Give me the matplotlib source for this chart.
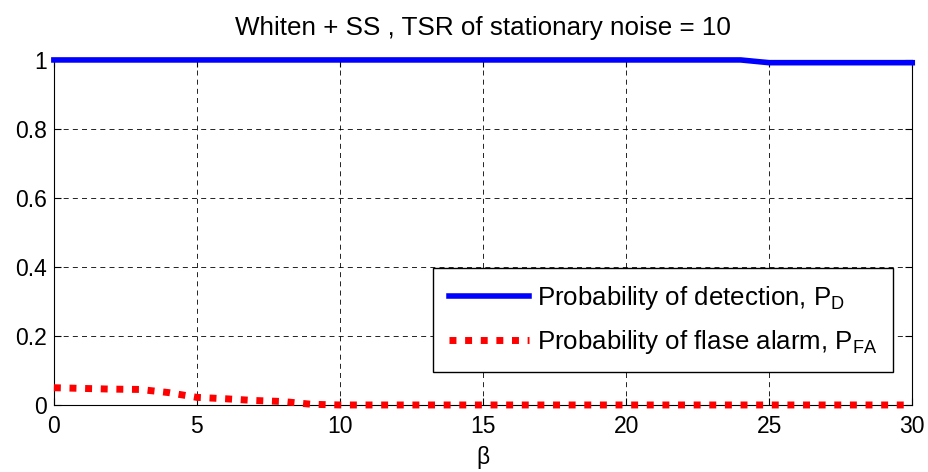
import matplotlib.pyplot as plt
import numpy as np

plt.rcParams['font.family'] = ['Liberation Sans', 'DejaVu Sans']

beta = np.arange(0, 31)
pd_vals = [1.0] * 25 + [0.992] * 6
pfa_vals = [0.05, 0.048, 0.046, 0.045, 0.036, 0.022, 0.018, 0.013, 0.01, 0.002,
            0.0, 0.0] + [0.0] * 19

fig = plt.figure(figsize=(9.29, 4.72), dpi=100)
ax = fig.add_axes([0.058, 0.142, 0.924, 0.731])

ax.plot(beta, pd_vals, color='#0000ff', linewidth=4, clip_on=False, zorder=3,
        label='Probability of detection, P$_\\mathregular{D}$')
ax.plot(beta, pfa_vals, color='#ff0000', linewidth=5, linestyle=(0, (1, 1.25)),
        clip_on=False, zorder=3, label='Probability of flase alarm, P$_\\mathregular{FA}$')

ax.set_xlim(0, 30)
ax.set_ylim(0, 1)
ax.set_xticks([0, 5, 10, 15, 20, 25, 30])
ax.set_yticks([0, 0.2, 0.4, 0.6, 0.8, 1])
ax.set_yticklabels(['0', '0.2', '0.4', '0.6', '0.8', '1'])
ax.tick_params(labelsize=16.5, direction='in', length=5, top=True, right=True)
ax.tick_params(axis='x', pad=7)
ax.tick_params(axis='y', pad=5)
ax.grid(True, color='black', linestyle=(0, (6, 5)), linewidth=0.6)
ax.set_xlabel('β', fontsize=16.5, labelpad=6)
ax.set_title('Whiten + SS , TSR of stationary noise = 10', fontsize=18.7, pad=18)

leg = ax.legend(loc='lower right', bbox_to_anchor=(0.977, 0.096), borderaxespad=0,
                fontsize=18.6, fancybox=False, edgecolor='black', framealpha=1,
                handlelength=3.1, handletextpad=0.3, borderpad=0.6, labelspacing=0.65)
leg.get_frame().set_linewidth(1.0)

fig.savefig('out.png', dpi=100)
